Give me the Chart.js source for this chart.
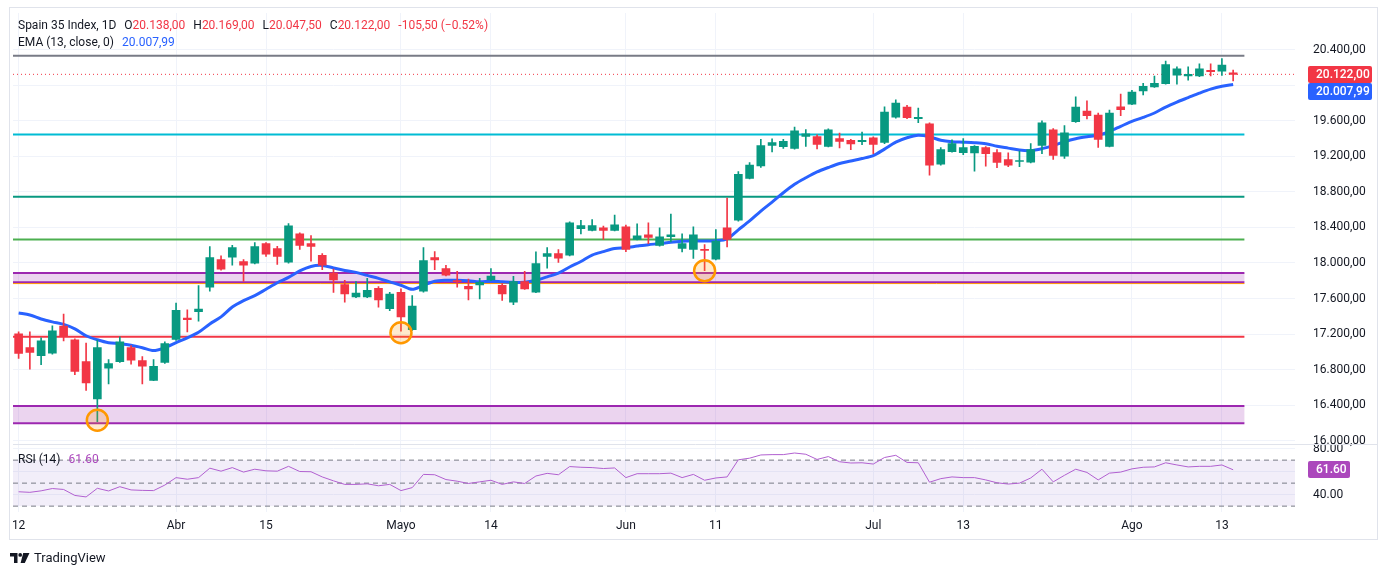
<!DOCTYPE html>
<html lang="es">
<head>
<meta charset="utf-8">
<title>Spain 35 Index, 1D</title>
<script src="https://cdn.jsdelivr.net/npm/chart.js@4.4.1/dist/chart.umd.min.js"></script>
<style>
    html, body { margin: 0; padding: 0; background: #fff; }
    #wrap { position: relative; width: 1388px; height: 575px; font-family: Roboto, "Noto Sans", sans-serif; color: #131722; }
    #c { position: absolute; left: 0; top: 0; }
    .lg { position: absolute; left: 18px; font-size: 12px; line-height: 16px; white-space: nowrap; }
    .lg span.g { margin-left: 8px; }
    .red { color: #f23645; }
    .blue { color: #2962ff; }
    .violet { color: #ab47bc; }
    #brand { position: absolute; left: 10px; top: 550px; font-size: 13px; line-height: 16px; display: flex; align-items: center; }
    #brand svg { margin-right: 4px; }
</style>
</head>
<body>
<div id="wrap">
    <canvas id="c" width="1388" height="575"></canvas>
    <div class="lg" style="top:17px">Spain 35 Index, 1D<span class="g">O</span><span class="red" id="lgO"></span><span class="g">H</span><span class="red" id="lgH"></span><span class="g">L</span><span class="red" id="lgL"></span><span class="g">C</span><span class="red" id="lgC"></span><span class="g red" id="lgChg"></span></div>
    <div class="lg" style="top:34px">EMA (13, close, 0)<span class="g blue" id="lgEma"></span></div>
    <div class="lg" style="top:451px">RSI (14)<span class="g violet" id="lgRsi"></span></div>
    <div id="brand">
        <svg width="20" height="10" viewBox="0 0 20 10"><path d="M0 0H7.5V10H4V3.6H0Z" fill="#131722"/><circle cx="10.2" cy="1.9" r="1.9" fill="#131722"/><path d="M13.2 0H19.5L14.8 10H10.6Z" fill="#131722"/></svg>
        <span>TradingView</span>
    </div>
</div>
<script>
// --- Data ---
const opens = [17203,17047,16957,16984,17289,17136,16891,16471,16817,16891,
    17047,16902,16680,16880,17140,17381,17451,17727,18039,18064,
    18016,17997,18217,18161,18008,18328,18217,18087,17886,17757,
    17619,17619,17716,17485,17671,17251,17682,18061,17938,17801,
    17738,17753,17808,17749,17560,17790,17671,18075,18105,18087,
    18387,18365,18395,18365,18406,18265,18317,18198,18295,18165,
    18153,18153,18042,18395,18481,18952,19093,19323,19308,19289,
    19423,19423,19312,19398,19379,19364,19409,19356,19639,19754,
    19624,19565,19111,19253,19242,19238,19297,19242,19164,19141,
    19134,19323,19498,19200,19590,19709,19665,19312,19757,19787,
    19936,19980,20018,20114,20103,20103,20166,20158,20138];
const highs = [17225,17225,17159,17292,17426,17147,17100,17133,16913,17170,
    17070,16947,16913,17114,17548,17474,17746,18183,18080,18198,
    18039,18228,18228,18187,18443,18339,18309,18105,17930,17805,
    17790,17827,17734,17671,17708,17634,18172,18128,17972,17905,
    17819,17827,17938,17768,17849,17905,18124,18172,18150,18462,
    18481,18488,18414,18540,18425,18440,18451,18395,18551,18328,
    18406,18206,18376,18729,19027,19130,19390,19397,19390,19528,
    19501,19442,19509,19461,19392,19472,19420,19757,19835,19773,
    19743,19576,19297,19386,19398,19320,19308,19275,19238,19260,
    19342,19598,19512,19546,19869,19824,19687,19721,19899,19943,
    20021,20103,20270,20207,20207,20241,20241,20300,20169];
const lows = [16925,16805,16855,16975,17122,16743,16565,16215,16638,16880,
    16861,16638,16675,16870,17130,17225,17345,17682,17920,17975,
    17793,17990,18075,17983,17997,18153,18020,17924,17668,17560,
    17610,17610,17504,17463,17233,17240,17671,17924,17855,17727,
    17585,17596,17800,17578,17530,17701,17665,17942,18006,18080,
    18328,18360,18265,18360,18128,18260,18217,18190,18236,18124,
    18050,17913,18035,18180,18470,18945,19074,19249,19289,19280,
    19312,19283,19305,19294,19275,19331,19230,19342,19630,19624,
    19579,18989,19100,19245,19219,19033,19089,19071,19082,19082,
    19125,19230,19164,19175,19580,19620,19301,19305,19657,19780,
    19891,19975,20010,20010,20055,20095,20103,20110,20047.5];
const closes = [16983,16995,17125,17237,17173,16780,16650,17047,16869,17114,
    16906,16839,16836,17092,17467,17363,17482,18061,17930,18172,
    17975,18183,18098,18075,18417,18198,18187,17975,17808,17652,
    17660,17693,17585,17649,17393,17515,18027,18035,17864,17790,
    17708,17782,17853,17652,17790,17708,17994,18105,18053,18451,
    18421,18421,18365,18428,18153,18306,18287,18295,18317,18217,
    18317,18142,18247,18265,18996,19101,19320,19353,19367,19487,
    19453,19334,19498,19367,19339,19379,19334,19698,19798,19635,
    19639,19100,19275,19342,19297,19312,19230,19130,19100,19152,
    19275,19576,19211,19464,19754,19657,19390,19687,19724,19921,
    19988,20021,20233,20185,20122,20185,20152,20227.5,20122];
const emaVals = [17437,17415,17370,17337,17309,17259,17181,17136,17103,17092,
    17075,17047,17014,17047,17103,17158,17220,17314,17393,17504,
    17576,17632,17704,17777,17838,17911,17961,17972,17944,17916,
    17894,17860,17827,17788,17749,17704,17749,17794,17805,17805,
    17799,17788,17794,17788,17782,17782,17805,17844,17886,17955,
    18016,18089,18128,18162,18173,18190,18206,18218,18234,18245,
    18250,18247,18250,18272,18373,18473,18584,18685,18790,18885,
    18958,19024,19074,19119,19147,19175,19208,19281,19359,19409,
    19437,19420,19381,19364,19359,19353,19342,19314,19292,19270,
    19264,19286,19320,19364,19398,19420,19437,19481,19537,19593,
    19637,19687,19754,19810,19860,19910,19955,19988,20007.99];
const rsiVals = [42.5,42,43.3,45.3,44.5,39.3,38,45.5,43.2,46.9,
    44.1,43.7,43.5,48.3,54.8,53.4,54.8,63,60.4,63.5,
    59.6,62.1,60.7,60.4,64.6,60.1,59.9,55.4,52,48.9,
    48.9,49.4,47.7,48.9,43.5,46.1,57.6,57.3,53.1,51.7,
    49.7,51.1,52.5,48.9,51.1,49.7,56.2,58.5,57.3,64.4,
    63.8,63.5,62.7,63.2,54.8,58.2,58.2,58.2,58.7,54.8,
    57.6,52.5,54.5,55.4,70.3,71.7,74.5,74.8,74.8,76.2,
    75.1,70.6,73.1,68.6,67.5,67.7,66.6,72.3,74.2,68,
    67.7,50.8,53.9,55.4,54.8,54.8,52.8,50.3,49.2,50,
    54.5,62.1,51.1,56.8,62.1,59.3,52.8,58.7,59.6,62.4,
    63.8,64.1,67.7,65.8,64.1,64.6,64.6,65.8,61.6];

// x axis: slot index -> tick text
const xTickIdx = [0, 14, 22, 34, 42, 54, 62, 76, 84, 99, 107];
const xTickText = ['12', 'Abr', '15', 'Mayo', '14', 'Jun', '11', 'Jul', '13', 'Ago', '13'];
const priceTicks = [16000, 16400, 16800, 17200, 17600, 18000, 18400, 18800, 19200, 19600, 20000, 20400];
const rsiTicks = [40, 60, 80];
const rsiBands = [30, 50, 70];

// drawn levels (prices)
const levelTop = 20330;
const levelCyan = 19445;
const levelTeal = 18744;
const levelGreen = 18265;
const levelOrange = 17768;
const levelRed = 17170;
const zoneUpper = [17782, 17888];
const zoneLower = [16198, 16390];
const levelEndIdx = 109;

// circled lows
const markIdx = [7, 34, 61];
const markPrice = [16230, 17215, 17913];

// --- Config ---
const SLOTS = 114;
const FONT = 'Roboto, "Noto Sans", sans-serif';
const UP = '#089981';
const DOWN = '#f23645';
const GRID = '#f0f3fa';

function fmtEs(v) {
    const parts = Math.abs(v).toFixed(2).split('.');
    const grp = parts[0].replace(/\B(?=(\d{3})+(?!\d))/g, '.');
    return (v < 0 ? '-' : '') + grp + ',' + parts[1];
}

const slotLabels = Array.from({ length: SLOTS }, (_, i) => {
    const k = xTickIdx.indexOf(i);
    return k >= 0 ? xTickText[k] : '';
});
const candleColors = closes.map((c, i) => (c >= opens[i] ? UP : DOWN));
const markData = closes.map((_, i) => {
    const k = markIdx.indexOf(i);
    return k >= 0 ? markPrice[k] : null;
});

// --- Legend text from the last bar ---
const last = closes.length - 1;
const chg = closes[last] - closes[last - 1];
document.getElementById('lgO').textContent = fmtEs(opens[last]);
document.getElementById('lgH').textContent = fmtEs(highs[last]);
document.getElementById('lgL').textContent = fmtEs(lows[last]);
document.getElementById('lgC').textContent = fmtEs(closes[last]);
document.getElementById('lgChg').textContent =
    fmtEs(chg) + ' (' + (chg / closes[last - 1] * 100).toFixed(2).replace('-', '\u2212') + '%)';
document.getElementById('lgEma').textContent = fmtEs(emaVals[last]);
document.getElementById('lgRsi').textContent = rsiVals[last].toFixed(2);

function hLine(ctx, y, x0, x1, color, width, dash) {
    ctx.save();
    ctx.strokeStyle = color;
    ctx.lineWidth = width;
    ctx.setLineDash(dash || []);
    ctx.beginPath();
    ctx.moveTo(x0, y);
    ctx.lineTo(x1, y);
    ctx.stroke();
    ctx.restore();
}

function tag(ctx, text, color, yc, x, w) {
    ctx.save();
    ctx.fillStyle = color;
    ctx.beginPath();
    ctx.roundRect(x, Math.round(yc - 8.5), w, 17, 2);
    ctx.fill();
    ctx.fillStyle = '#fff';
    ctx.font = '500 12px ' + FONT;
    ctx.textBaseline = 'middle';
    ctx.textAlign = 'left';
    ctx.fillText(text, x + 8, yc + 0.5);
    ctx.restore();
}

// scale label overflow must not shrink the panes
function noPad(s) {
    s.paddingTop = 0;
    s.paddingBottom = 0;
    s.paddingLeft = 0;
    s.paddingRight = 0;
}

const levelsPlugin = {
    id: 'levels',
    beforeDatasetsDraw(chart) {
        const { ctx, chartArea: a, scales } = chart;
        const x = scales.x, y = scales.y, r = scales.rsi;
        const xEnd = x.getPixelForValue(levelEndIdx);
        ctx.save();
        ctx.beginPath();
        ctx.rect(a.left, a.top, a.right - a.left, a.bottom - a.top);
        ctx.clip();

        // RSI band + dashed guides
        const b70 = r.getPixelForValue(rsiBands[2]);
        const b30 = r.getPixelForValue(rsiBands[0]);
        ctx.fillStyle = 'rgba(126,87,194,0.1)';
        ctx.fillRect(a.left, b70, a.right - a.left, b30 - b70);
        rsiBands.forEach(v => hLine(ctx, r.getPixelForValue(v), a.left, a.right, '#787b86', 1, [5, 4]));

        // zones
        [zoneUpper, zoneLower].forEach(z => {
            const yTop = y.getPixelForValue(z[1]);
            const yBot = y.getPixelForValue(z[0]);
            ctx.fillStyle = 'rgba(156,39,176,0.2)';
            ctx.fillRect(a.left, yTop, xEnd - a.left, yBot - yTop);
            hLine(ctx, yTop, a.left, xEnd, '#9c27b0', 2);
            hLine(ctx, yBot, a.left, xEnd, '#9c27b0', 2);
        });

        hLine(ctx, y.getPixelForValue(levelTop), a.left, xEnd, '#787b86', 2);
        hLine(ctx, y.getPixelForValue(levelCyan), a.left, xEnd, '#00bcd4', 2);
        hLine(ctx, y.getPixelForValue(levelTeal), a.left, xEnd, '#089981', 2);
        hLine(ctx, y.getPixelForValue(levelGreen), a.left, xEnd, '#4caf50', 2);
        hLine(ctx, y.getPixelForValue(levelOrange), a.left, xEnd, '#ff9800', 1);
        hLine(ctx, y.getPixelForValue(levelRed), a.left, xEnd, '#f23645', 2);

        // last price dotted line
        hLine(ctx, y.getPixelForValue(closes[last]), a.left, a.right, DOWN, 1, [1, 3]);
        ctx.restore();
    },
    afterDraw(chart) {
        const { ctx, chartArea: a, scales } = chart;
        const y = scales.y, r = scales.rsi;
        // pane separator and frame
        hLine(ctx, Math.round(r.top) + 0.5, a.left, 1378, '#e0e3eb', 1);
        ctx.save();
        ctx.strokeStyle = '#e0e3eb';
        ctx.lineWidth = 1;
        ctx.strokeRect(9.5, 7.5, 1368, 532);
        ctx.restore();

        // axis value tags
        const axisX = a.right + 13;
        const yLast = y.getPixelForValue(closes[last]);
        const yEma = Math.max(y.getPixelForValue(emaVals[last]), yLast + 17);
        tag(ctx, fmtEs(closes[last]), DOWN, yLast, axisX, 64);
        tag(ctx, fmtEs(emaVals[last]), '#2962ff', yEma, axisX, 64);
        tag(ctx, rsiVals[last].toFixed(2), '#ab47bc', r.getPixelForValue(rsiVals[last]), axisX, 42);
    }
};

const axisFont = { family: FONT, size: 12 };

new Chart(document.getElementById('c'), {
    type: 'bar',
    data: {
        labels: slotLabels,
        datasets: [
            {
                type: 'line',
                data: markData,
                yAxisID: 'y',
                showLine: false,
                pointRadius: 10.5,
                pointBorderWidth: 2.5,
                pointBorderColor: '#ff9800',
                pointBackgroundColor: 'rgba(255,152,0,0.2)',
                order: 0
            },
            {
                data: opens.map((o, i) => [o, closes[i]]),
                yAxisID: 'y',
                grouped: false,
                barThickness: 8,
                minBarLength: 1,
                backgroundColor: candleColors,
                borderWidth: 0,
                order: 1
            },
            {
                data: lows.map((l, i) => [l, highs[i]]),
                yAxisID: 'y',
                grouped: false,
                barThickness: 1,
                backgroundColor: candleColors,
                borderWidth: 0,
                order: 2
            },
            {
                type: 'line',
                data: emaVals,
                yAxisID: 'y',
                borderColor: '#2962ff',
                borderWidth: 3,
                pointRadius: 0,
                tension: 0.3,
                order: 3
            },
            {
                type: 'line',
                data: rsiVals,
                yAxisID: 'rsi',
                borderColor: '#b160d0',
                borderWidth: 1,
                pointRadius: 0,
                tension: 0,
                order: 4
            }
        ]
    },
    options: {
        responsive: false,
        animation: false,
        events: [],
        layout: { padding: { left: 10, top: 8, right: 10, bottom: 35 } },
        plugins: { legend: { display: false }, tooltip: { enabled: false } },
        scales: {
            x: {
                type: 'category',
                offset: true,
                grid: { offset: false, color: GRID, drawTicks: false },
                border: { display: false },
                ticks: { autoSkip: false, maxRotation: 0, color: '#131722', font: axisFont, padding: 7 },
                afterBuildTicks: s => { s.ticks = xTickIdx.map(v => ({ value: v })); },
                afterFit: s => { s.height = 28; noPad(s); }
            },
            y: {
                position: 'right',
                stack: 'pane',
                stackWeight: 435,
                min: 15967,
                max: 20812,
                bounds: 'data',
                grid: { color: GRID, drawTicks: false },
                border: { display: false },
                ticks: { color: '#131722', font: axisFont, padding: 18, callback: v => fmtEs(v) },
                afterBuildTicks: s => { s.ticks = priceTicks.map(v => ({ value: v })); },
                afterFit: s => { s.width = 83; noPad(s); }
            },
            rsi: {
                position: 'right',
                stack: 'pane',
                stackWeight: 69,
                min: 24.9,
                max: 84.3,
                bounds: 'data',
                grid: { color: GRID, drawTicks: false },
                border: { display: false },
                ticks: { color: '#131722', font: axisFont, padding: 18, callback: v => v.toFixed(2) },
                afterBuildTicks: s => { s.ticks = rsiTicks.map(v => ({ value: v })); },
                afterFit: s => { s.width = 83; noPad(s); }
            }
        }
    },
    plugins: [levelsPlugin]
});
</script>
</body>
</html>
